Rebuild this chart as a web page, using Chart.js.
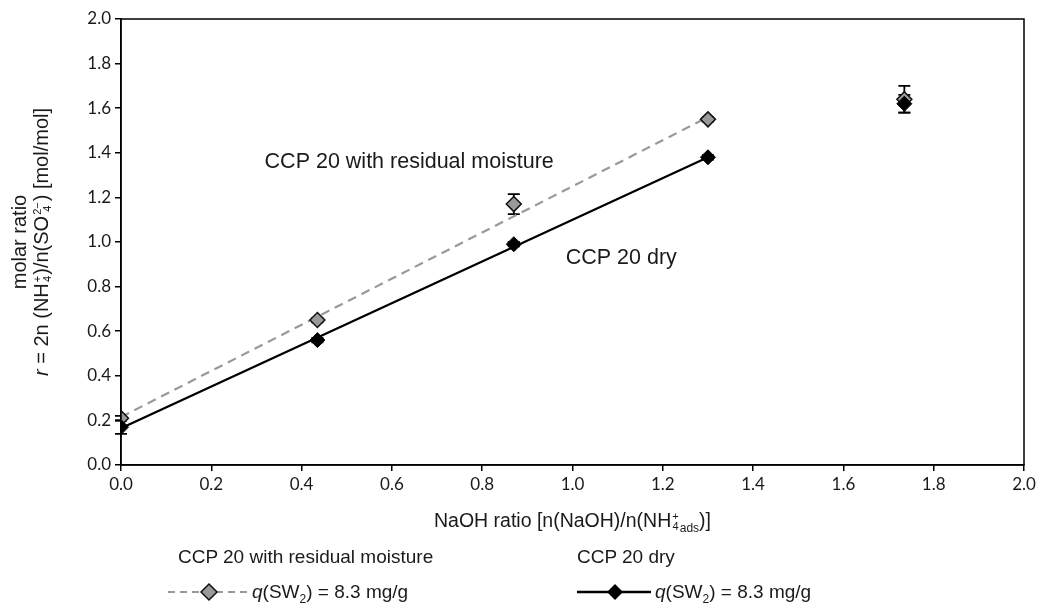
<!DOCTYPE html>
<html>
<head>
<meta charset="utf-8">
<script src="https://cdn.jsdelivr.net/npm/chart.js@4.4.1/dist/chart.umd.min.js"></script>
<style>
body { margin: 0; background: #fff; }
#wrap { position: relative; width: 1043px; height: 608px; font-family: "Liberation Sans", Arial, sans-serif; color: #1a1a1a; }
#ytitle { position: absolute; left: -169px; top: 219px; width: 400px; height: 46px; transform: rotate(-90deg); text-align: center; font-size: 20px; line-height: 22px; white-space: nowrap; }
#xtitle { position: absolute; left: 121px; width: 903px; top: 509px; text-align: center; font-size: 19.5px; white-space: nowrap; }
.ss { display: inline-flex; flex-direction: column; vertical-align: 7px; font-size: 11px; line-height: 10px; margin: 0 1px; }
sub, sup { font-size: 12px; line-height: 0; }
.lg { position: absolute; font-size: 19px; white-space: nowrap; }
.lg svg { position: absolute; }
</style>
</head>
<body>
<div id="wrap">
  <canvas id="chart" width="1043" height="608"></canvas>
  <div id="ytitle">molar ratio<br><i>r</i> = 2n (NH<span class="ss"><span>+</span><span>4</span></span>)/n(SO<span class="ss"><span>2&minus;</span><span>4</span></span>) [mol/mol]</div>
  <div id="xtitle">NaOH ratio [n(NaOH)/n(NH<span class="ss"><span>+</span><span>4</span></span><sub>ads</sub>)]</div>
  <div class="lg" style="left:178px;top:546px;">CCP 20 with residual moisture</div>
  <div class="lg" style="left:577px;top:546px;">CCP 20 dry</div>
  <div class="lg" style="left:168px;top:580px;width:320px;height:24px;">
    <svg width="82" height="24" style="left:0;top:0">
      <line x1="0" y1="12" x2="82" y2="12" stroke="#999" stroke-width="2" stroke-dasharray="7,5"/>
      <polygon points="41,4 49,12 41,20 33,12" fill="#999" stroke="#111" stroke-width="1.5"/>
    </svg>
    <span style="position:absolute;left:84px;top:1px;"><i>q</i>(SW<sub>2</sub>) = 8.3 mg/g</span>
  </div>
  <div class="lg" style="left:577px;top:580px;width:320px;height:24px;">
    <svg width="74" height="24" style="left:0;top:0">
      <line x1="0" y1="12" x2="74" y2="12" stroke="#000" stroke-width="2.5"/>
      <polygon points="38,4 46,12 38,20 30,12" fill="#000"/>
    </svg>
    <span style="position:absolute;left:78px;top:1px;"><i>q</i>(SW<sub>2</sub>) = 8.3 mg/g</span>
  </div>
</div>
<script>
// NaOH ratio values
const naoh = [0, 0.435, 0.87, 1.30, 1.735]

// CCP 20 with residual moisture
const moistVals = [0.21, 0.65, 1.17, 1.55, 1.64]
const moistErr = [0.01, 0.01, 0.045, 0.01, 0.06]
// CCP 20 dry
const dryVals = [0.17, 0.56, 0.99, 1.38, 1.62]
const dryErr = [0.03, 0.01, 0.01, 0.01, 0.04]

// linear fits (0 .. 1.3)
const fitX = [0, 1.30]
const moistFit = [0.215, 1.56]
const dryFit = [0.165, 1.38]

const yTicks = [0, 0.2, 0.4, 0.6, 0.8, 1.0, 1.2, 1.4, 1.6, 1.8, 2.0]

function pts(xs, ys) {
    return xs.map(function(x, i) { return { x: x, y: ys[i] } })
}

// error bars go under the markers
const errorBars = {
    id: 'errorBars',
    beforeDatasetsDraw: function(chart) {
        const ctx = chart.ctx
        const xs = chart.scales.x, ys = chart.scales.y
        const sets = [[moistVals, moistErr], [dryVals, dryErr]]
        ctx.save()
        ctx.strokeStyle = '#000'
        ctx.lineWidth = 1.8
        sets.forEach(function(s) {
            naoh.forEach(function(x, i) {
                const px = xs.getPixelForValue(x)
                const top = ys.getPixelForValue(s[0][i] + s[1][i])
                const bot = ys.getPixelForValue(s[0][i] - s[1][i])
                ctx.beginPath()
                ctx.moveTo(px, top); ctx.lineTo(px, bot)
                ctx.moveTo(px - 6, top); ctx.lineTo(px + 6, top)
                ctx.moveTo(px - 6, bot); ctx.lineTo(px + 6, bot)
                ctx.stroke()
            })
        })
        ctx.restore()
    }
}

const frame = {
    id: 'frame',
    afterDraw: function(chart) {
        const a = chart.chartArea, ctx = chart.ctx
        const xs = chart.scales.x, ys = chart.scales.y
        ctx.save()
        ctx.strokeStyle = '#000'
        ctx.lineWidth = 1.5
        ctx.strokeRect(a.left, a.top, a.right - a.left, a.bottom - a.top)
        ctx.fillStyle = '#1a1a1a'
        ctx.font = '21.5px "Liberation Sans", Arial, sans-serif'
        ctx.textBaseline = 'middle'
        ctx.textAlign = 'left'
        ctx.fillText('CCP 20 with residual moisture', xs.getPixelForValue(0.318), ys.getPixelForValue(1.36))
        ctx.fillText('CCP 20 dry', xs.getPixelForValue(0.985), ys.getPixelForValue(0.93))
        ctx.restore()
    }
}

const tickFont = { family: 'Lato, "Open Sans", sans-serif', size: 17 }

new Chart(document.getElementById('chart').getContext('2d'), {
    type: 'scatter',
    data: {
        datasets: [
            {
                label: 'moist',
                data: pts(naoh, moistVals),
                pointStyle: 'rectRot',
                pointRadius: 7.5,
                backgroundColor: '#999999',
                borderColor: '#111',
                borderWidth: 1.5,
                order: 1
            },
            {
                label: 'dry',
                data: pts(naoh, dryVals),
                pointStyle: 'rectRot',
                pointRadius: 7.5,
                backgroundColor: '#000',
                borderColor: '#000',
                borderWidth: 1,
                order: 0
            },
            {
                label: 'moist fit',
                data: pts(fitX, moistFit),
                showLine: true,
                borderColor: '#999',
                borderWidth: 2.2,
                borderDash: [9, 6],
                pointRadius: 0,
                order: 3
            },
            {
                label: 'dry fit',
                data: pts(fitX, dryFit),
                showLine: true,
                borderColor: '#000',
                borderWidth: 2.2,
                pointRadius: 0,
                order: 2
            }
        ]
    },
    options: {
        responsive: false,
        animation: false,
        layout: { padding: { top: 19, right: 19, left: 0, bottom: 0 } },
        plugins: { legend: { display: false }, tooltip: { enabled: false } },
        scales: {
            x: {
                type: 'linear',
                min: 0, max: 2,
                afterFit: function(s) { s.height = 143 },
                ticks: { stepSize: 0.2, color: '#1a1a1a', font: tickFont, padding: 3,
                    callback: function(v) { return v.toFixed(1) } },
                grid: { drawOnChartArea: false, color: '#000', tickLength: 6, lineWidth: 1.5 },
                border: { color: '#000', width: 1.5 }
            },
            y: {
                type: 'linear',
                min: 0, max: 2,
                afterFit: function(s) { s.width = 121 },
                afterBuildTicks: function(s) { s.ticks = yTicks.map(function(v) { return { value: v } }) },
                ticks: { color: '#1a1a1a', font: tickFont, padding: 4,
                    callback: function(v) { return v.toFixed(1) } },
                grid: { drawOnChartArea: false, color: '#000', tickLength: 6, lineWidth: 1.5 },
                border: { color: '#000', width: 1.5 }
            }
        }
    },
    plugins: [errorBars, frame]
})
</script>
</body>
</html>
